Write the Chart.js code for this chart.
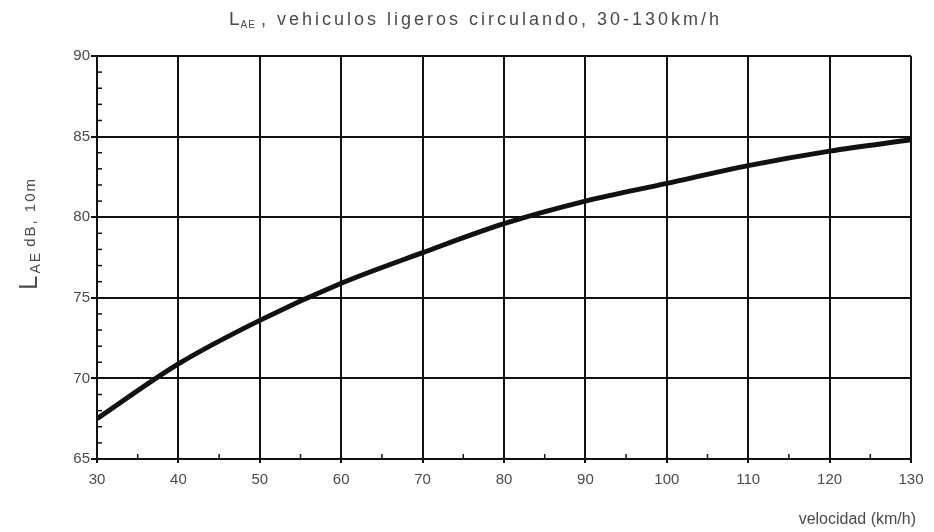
<!DOCTYPE html>
<html>
<head>
<meta charset="utf-8">
<script src="https://cdn.jsdelivr.net/npm/chart.js@4"></script>
<style>
  html, body { margin:0; padding:0; background:#fff; }
  #wrap { width:934px; height:532px; }
</style>
</head>
<body>
<div id="wrap"><canvas id="grafico" width="934" height="532"></canvas></div>
<script>
// velocidad (km/h) y LAE dB a 10 m
const velocidades = [30, 40, 50, 60, 70, 80, 90, 100, 110, 120, 130];
const lae = [67.5, 70.9, 73.6, 75.9, 77.8, 79.6, 81.0, 82.1, 83.2, 84.1, 84.8];
const ticksY = [65, 70, 75, 80, 85, 90];
const ticksX = [30, 40, 50, 60, 70, 80, 90, 100, 110, 120, 130];

const fuente = "'Liberation Sans', sans-serif";
const gris = "#4a4a4a";

// titulo, etiqueta del eje y marcas menores
const extras = {
  id: "extras",
  afterDraw(chart){
    const ctx = chart.ctx;
    const x = chart.scales.x, y = chart.scales.y;
    ctx.save();

    // marcas menores eje Y (cada 1)
    ctx.strokeStyle = "#111";
    ctx.lineWidth = 1.5;
    for(let v = 65; v <= 90; v++){
      if(v % 5 === 0) continue;
      const py = y.getPixelForValue(v);
      ctx.beginPath();
      ctx.moveTo(x.left, py);
      ctx.lineTo(x.left + 5, py);
      ctx.stroke();
    }
    // marcas menores eje X (cada 5)
    for(let v = 35; v < 130; v += 10){
      const px = x.getPixelForValue(v);
      ctx.beginPath();
      ctx.moveTo(px, y.bottom);
      ctx.lineTo(px, y.bottom - 5);
      ctx.stroke();
    }

    // titulo
    ctx.fillStyle = gris;
    ctx.textBaseline = "alphabetic";
    ctx.textAlign = "left";
    ctx.letterSpacing = "1px";
    let tx = 229, ty = 25;
    ctx.font = "19px " + fuente;
    ctx.fillText("L", tx, ty);
    tx += ctx.measureText("L").width;
    ctx.font = "10px " + fuente;
    ctx.fillText("AE", tx, ty + 3);
    tx += ctx.measureText("AE").width + 5;
    ctx.font = "18px " + fuente;
    ctx.letterSpacing = "3px";
    ctx.fillText(", vehiculos ligeros circulando, 30-130km/h", tx, ty);

    // etiqueta eje Y
    ctx.letterSpacing = "2px";
    ctx.translate(37, 290);
    ctx.rotate(-Math.PI / 2);
    let lx = 0;
    ctx.font = "26px " + fuente;
    ctx.fillText("L", lx, 0);
    lx += ctx.measureText("L").width;
    ctx.font = "14px " + fuente;
    ctx.fillText("AE", lx, 3);
    lx += ctx.measureText("AE").width + 4;
    ctx.font = "15px " + fuente;
    ctx.fillText("dB, 10m", lx, -2);
    ctx.restore();

    // etiqueta eje X
    ctx.save();
    ctx.fillStyle = gris;
    ctx.font = "16px " + fuente;
    ctx.textAlign = "right";
    ctx.fillText("velocidad (km/h)", 916, 524);
    ctx.restore();
  }
};

new Chart(document.getElementById("grafico"), {
  type: "line",
  data: {
    datasets: [{
      data: velocidades.map((v, i) => ({x: v, y: lae[i]})),
      borderColor: "#111",
      borderWidth: 5,
      pointRadius: 0,
      tension: 0.4,
      cubicInterpolationMode: "monotone",
      fill: false
    }]
  },
  options: {
    responsive: false,
    animation: false,
    layout: { padding: { top: 56, right: 23, left: 0, bottom: 0 } },
    plugins: { legend: { display: false }, title: { display: false }, tooltip: { enabled: false } },
    scales: {
      x: {
        type: "linear",
        min: 30, max: 130,
        afterBuildTicks: s => { s.ticks = ticksX.map(v => ({value: v})); },
        afterFit: s => { s.height = 73; },
        grid: { color: "#111", lineWidth: 2, tickLength: 4, drawTicks: true },
        border: { color: "#111", width: 2 },
        ticks: { color: gris, font: { family: fuente, size: 15 }, padding: 8, maxRotation: 0 }
      },
      y: {
        min: 65, max: 90,
        afterBuildTicks: s => { s.ticks = ticksY.map(v => ({value: v})); },
        afterFit: s => { s.width = 97; },
        grid: { color: "#111", lineWidth: 2, tickLength: 6 },
        border: { color: "#111", width: 2 },
        ticks: { color: gris, font: { family: fuente, size: 15 }, padding: 1 }
      }
    }
  },
  plugins: [extras]
});
</script>
</body>
</html>
